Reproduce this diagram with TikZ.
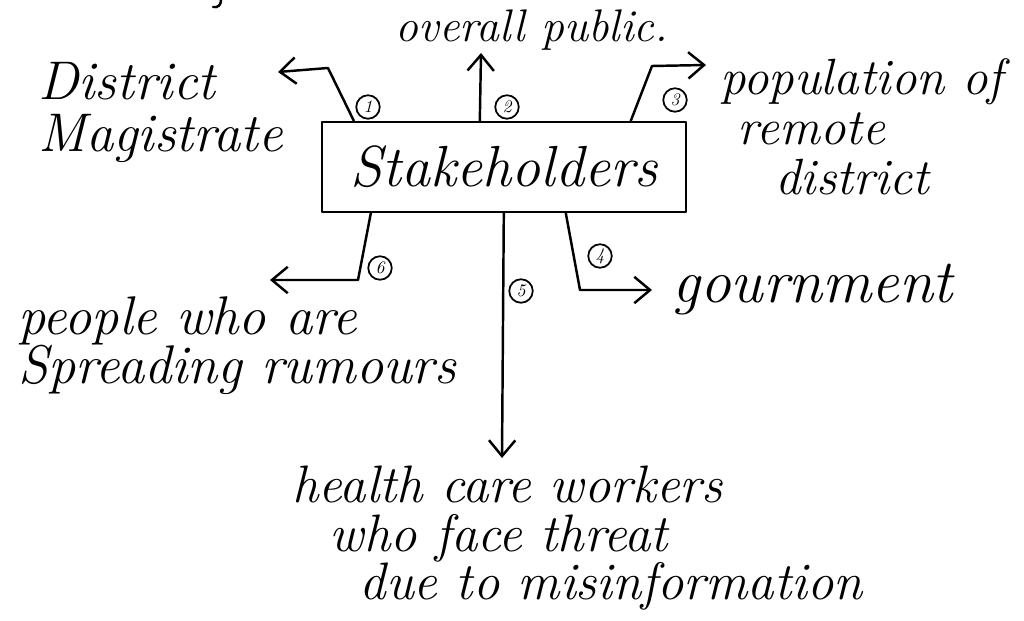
\documentclass[tikz,border=0pt]{standalone}
\usetikzlibrary{arrows.meta,calc}
\begin{document}
\begin{tikzpicture}[x=0.02cm,y=-0.02cm,
  ink/.style={line width=1.4pt,line cap=round,line join=round},
  arr/.style={ink,-{Straight Barb[length=9pt,width=15pt,line width=1.4pt]}},
  lbl/.style={font=\fontsize{30}{30}\selectfont\itshape,inner sep=0pt},
  num/.style={draw,circle,line width=1pt,inner sep=0pt,minimum size=0.47cm,font=\normalsize\itshape}]
\useasboundingbox (0,0) rectangle (1024,621);

% stroke end reaching in from the top edge
\draw[ink] (221,0) .. controls (221,5) and (218,8) .. (213,7);

% central box
\node[ink,draw,minimum width=7.28cm,minimum height=1.8cm,
      font=\fontsize{33}{33}\selectfont\itshape] (box) at (504,167) {Stakeholders};

% labels
\node[lbl,anchor=center,font=\fontsize{26}{26}\selectfont\itshape] (pub) at (532,30) {overall public.};
\node[lbl,anchor=north west,align=left,font=\fontsize{31}{29.5}\selectfont\itshape] (dm) at (38,62) {District\\Magistrate};
\node[lbl,anchor=north west,align=left,font=\fontsize{29}{28.5}\selectfont\itshape] (pop) at (720,58) {population of\\\hspace*{0.35cm}remote\\\hspace*{1.1cm}district};
\node[lbl,anchor=west,font=\fontsize{35}{35}\selectfont\itshape] (gov) at (672,290) {gournment};
\node[lbl,anchor=north west,align=left,font=\fontsize{31}{28}\selectfont\itshape] (ppl) at (18,296) {people who are\\Spreading rumours};
\node[lbl,anchor=north west,align=left,font=\fontsize{30}{27.5}\selectfont\itshape] (hcw) at (292,466) {health care workers\\\hspace*{0.75cm}who face threat\\\hspace*{1.35cm}due to misinformation};

% turning points and arrow tips
\coordinate (t1) at (328,68);   \coordinate (e1) at (278,72);
\coordinate (e2) at (481,53);
\coordinate (t3) at (652,66);   \coordinate (e3) at (706,65);
\coordinate (t4) at (580,290);  \coordinate (e4) at (652,290);
\coordinate (e5) at (502,458);
\coordinate (t6) at (358,280);  \coordinate (e6) at (270,280);

% connectors
\draw[arr] ($(box.north west)+(33,0)$) -- (t1) -- (e1);
\draw[arr] ($(box.north west)+(159,0)$) -- (e2);
\draw[arr] ($(box.north west)+(310,0)$) -- (t3) -- (e3);
\draw[arr] ($(box.south west)+(245,0)$) -- (t4) -- (e4);
\draw[arr] ($(box.south west)+(183,0)$) -- (e5);
\draw[arr] ($(box.south west)+(50,0)$) -- (t6) -- (e6);

% numbered markers
\node[num] (n1) at (368,107) {1};
\node[num] (n2) at (507,107) {2};
\node[num] (n3) at (675,100) {3};
\node[num] (n4) at (600,256) {4};
\node[num] (n5) at (521,291) {5};
\node[num] (n6) at (380,268) {6};
\end{tikzpicture}
\end{document}
